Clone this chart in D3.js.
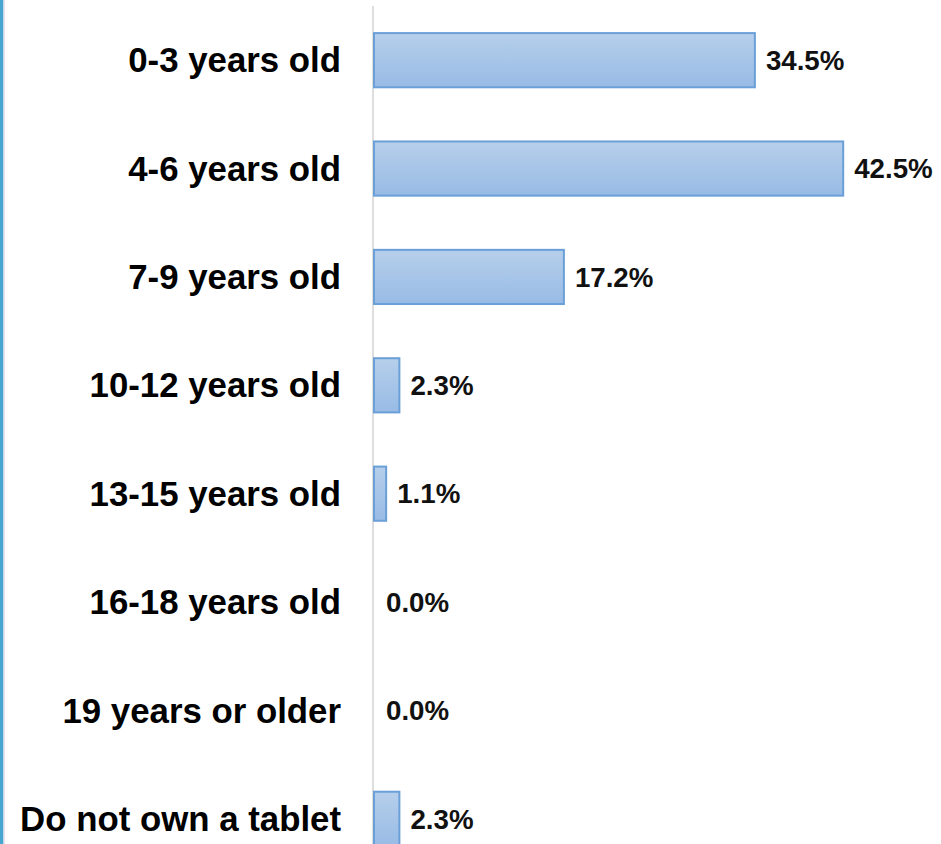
<!DOCTYPE html>
<html>
<head>
<meta charset="utf-8">
<script src="https://cdn.jsdelivr.net/npm/d3@7"></script>
<style>
  html, body { margin: 0; padding: 0; background: #fff; overflow: hidden; }
  svg { display: block; font-family: "Liberation Sans", Arial, sans-serif; }
</style>
</head>
<body>
<svg id="chart" width="941" height="844"></svg>
<script>
// data
var categories = ['0-3 years old', '4-6 years old', '7-9 years old', '10-12 years old',
  '13-15 years old', '16-18 years old', '19 years or older', 'Do not own a tablet'];
var shares = [34.5, 42.5, 17.2, 2.3, 1.1, 0.0, 0.0, 2.3];

var svg = d3.select('#chart'),
  width = +svg.attr('width'),
  height = +svg.attr('height');

var rows = categories.map((c, i) => ({ cat: c, val: shares[i] }));

var x = d3.scaleLinear()
  .domain([0, 50])
  .range([374, 926]);

var y = d3.scaleBand()
  .domain(categories)
  .range([6, 873])
  .paddingInner(0.5)
  .paddingOuter(0.25);

var defs = svg.append('defs');
var grad = defs.append('linearGradient')
  .attr('id', 'barFill')
  .attr('x1', 0).attr('y1', 0).attr('x2', 0).attr('y2', 1);
grad.append('stop').attr('offset', '0%').attr('stop-color', '#b6cfeb');
grad.append('stop').attr('offset', '100%').attr('stop-color', '#98bbe5');

// blue edge on the left
svg.append('rect').attr('x', 0).attr('y', 0).attr('width', 3.5).attr('height', height).attr('fill', '#47a6d0');
svg.append('rect').attr('x', 3.5).attr('y', 0).attr('width', 1.5).attr('height', height).attr('fill', '#e6e2ee');

// vertical axis line
svg.append('line')
  .attr('x1', x(0) - 1).attr('x2', x(0) - 1)
  .attr('y1', 6).attr('y2', height)
  .attr('stroke', '#dedede')
  .attr('stroke-width', 2);

var row = svg.selectAll('.row')
  .data(rows)
  .enter().append('g')
  .attr('class', 'row');

row.filter(d => d.val > 0).append('rect')
  .attr('x', x(0))
  .attr('y', d => y(d.cat))
  .attr('width', d => x(d.val) - x(0))
  .attr('height', y.bandwidth())
  .attr('fill', 'url(#barFill)')
  .attr('stroke', '#6a9fd8')
  .attr('stroke-width', 2);

row.append('text')
  .attr('x', 341)
  .attr('y', d => y(d.cat) + y.bandwidth() / 2)
  .attr('dy', '0.35em')
  .attr('text-anchor', 'end')
  .style('font-size', '34.8px')
  .style('font-weight', 'bold')
  .style('fill', '#000')
  .text(d => d.cat);

row.append('text')
  .attr('x', d => x(d.val) + (d.val > 0 ? 11 : 12))
  .attr('y', d => y(d.cat) + y.bandwidth() / 2)
  .attr('dy', '0.35em')
  .style('font-size', '27.7px')
  .style('font-weight', 'bold')
  .style('fill', '#111')
  .text(d => d.val.toFixed(1) + '%');
</script>
</body>
</html>
